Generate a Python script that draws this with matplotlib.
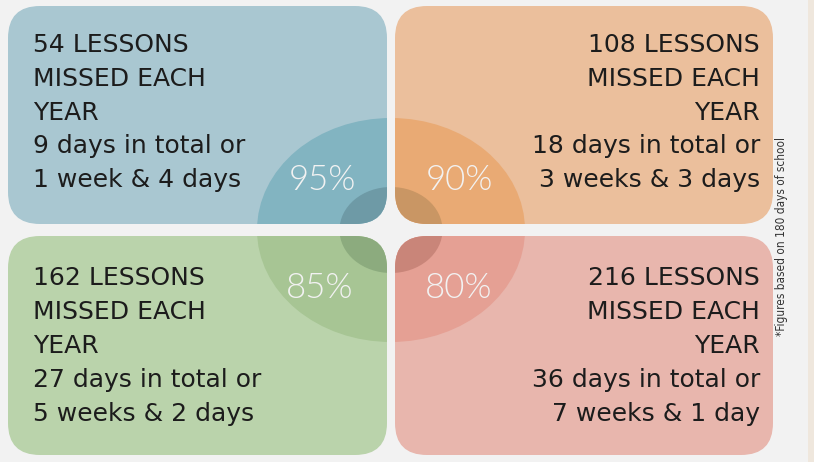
import matplotlib
matplotlib.use("Agg")
import matplotlib.pyplot as plt
from matplotlib.patches import FancyBboxPatch, Ellipse, Rectangle

# attendance rates and what they cost
attendance = [95, 90, 85, 80]
lessons_missed = [54, 108, 162, 216]
days_missed = [9, 18, 27, 36]
duration_text = ["1 week & 4 days", "3 weeks & 3 days", "5 weeks & 2 days", "7 weeks & 1 day"]
note = "*Figures based on 180 days of school"

box_colors = ["#a9c7d1", "#ebbf9c", "#bad3ab", "#e8b6ad"]
ring_colors = ["#82b4c1", "#e9aa74", "#a7c594", "#e5a094"]
core_colors = ["#6e9aa6", "#c99664", "#8cab7e", "#c98579"]

W, H = 814, 462
fig = plt.figure(figsize=(W / 100, H / 100), dpi=100)
fig.patch.set_facecolor("#f2f2f2")
ax = fig.add_axes([0, 0, 1, 1])
ax.set_xlim(0, W)
ax.set_ylim(H, 0)
ax.axis("off")

# beige strip on the far right
ax.add_patch(Rectangle((808, 0), 6, H, facecolor="#efe7dd", edgecolor="none"))

# box geometry: (x0, y0, w, h), with the rings centred in the gap
boxes = [(8, 6, 379, 218), (395, 6, 378, 218), (8, 236, 379, 219), (395, 236, 378, 219)]
cx, cy = 391, 230

for i, (x0, y0, w, h) in enumerate(boxes):
    box = FancyBboxPatch((x0, y0), w, h, boxstyle="round,pad=0,rounding_size=32",
                         facecolor=box_colors[i], edgecolor="none")
    ax.add_patch(box)
    ring = Ellipse((cx, cy), 268, 224, facecolor=ring_colors[i], edgecolor="none")
    ax.add_patch(ring)
    ring.set_clip_path(box)
    core = Ellipse((cx, cy), 103, 86, facecolor=core_colors[i], edgecolor="none")
    ax.add_patch(core)
    core.set_clip_path(box)

txt_font = dict(fontsize=18, color="#1c1c1c", family=["DejaVu Sans"])
tops = [45, 45, 278, 278]
steps = [33.8, 33.8, 34.0, 34.0]
for i in range(4):
    lines = ["%d LESSONS" % lessons_missed[i], "MISSED EACH", "YEAR",
             "%d days in total or" % days_missed[i], duration_text[i]]
    right = i % 2 == 1
    x = 760 if right else 33
    for k, line in enumerate(lines):
        ax.text(x, tops[i] + k * steps[i], line, ha="right" if right else "left",
                va="center", **txt_font)

pct_pos = [(322, 180), (459, 180), (320, 288), (459, 288)]
for i, (px, py) in enumerate(pct_pos):
    ax.text(px, py, "%d%%" % attendance[i], ha="center", va="center",
            fontsize=25, color="#f2f2f2", fontweight=300,
            family=["Lato", "DejaVu Sans"])

ax.text(781, 236, note, rotation=90, ha="center", va="center", fontsize=8.5,
        color="#333333", fontstretch="condensed",
        family=["Liberation Sans Narrow", "DejaVu Sans"])

fig.savefig("out.png", dpi=100, facecolor=fig.get_facecolor())
